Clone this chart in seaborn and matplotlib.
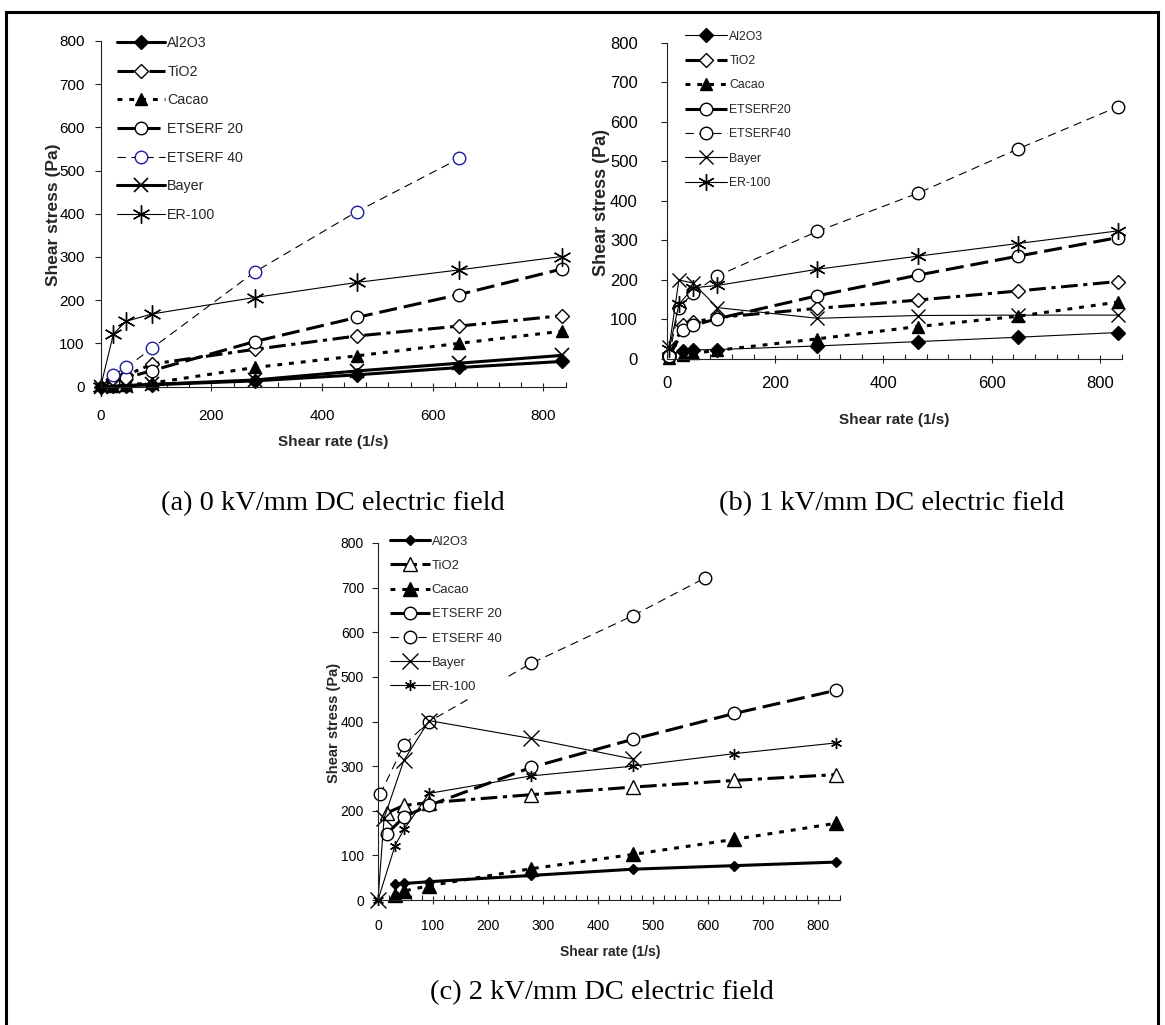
import matplotlib
matplotlib.use("Agg")
import matplotlib.pyplot as plt
from matplotlib.lines import Line2D
from matplotlib.ticker import MultipleLocator
import seaborn as sns

sns.set_theme(style="ticks")
plt.rcParams["font.family"] = ["Liberation Sans", "DejaVu Sans"]
plt.rcParams["lines.scale_dashes"] = False
plt.rcParams["axes.linewidth"] = 0.8
plt.rcParams["axes.edgecolor"] = "#222222"

W, H, DPI = 1165, 1025, 100

# ---------------- (a) 0 kV/mm ----------------
a_al2o3_x = [0, 23, 46, 93, 278, 463, 648, 833]
a_al2o3_y = [0, 1, 2, 4, 13, 27, 44, 58]
a_tio2_x = [23, 46, 93, 278, 463, 648, 833]
a_tio2_y = [18, 26, 52, 86, 117, 140, 164]
a_cacao_x = [23, 46, 93, 278, 463, 648, 833]
a_cacao_y = [2, 4, 8, 44, 71, 100, 128]
a_ets20_x = [23, 46, 93, 278, 463, 648, 833]
a_ets20_y = [10, 20, 37, 104, 160, 213, 272]
a_ets40_x = [23, 46, 93, 278, 463, 648]
a_ets40_y = [27, 44, 89, 265, 405, 528]
a_bayer_x = [0, 23, 46, 93, 278, 463, 648, 833]
a_bayer_y = [0, 1, 2, 5, 15, 36, 54, 72]
a_er100_x = [0, 23, 46, 93, 278, 463, 648, 833]
a_er100_y = [0, 122, 151, 168, 206, 241, 270, 301]

# ---------------- (b) 1 kV/mm ----------------
b_al2o3_x = [4, 30, 48, 93, 278, 463, 648, 833]
b_al2o3_y = [10, 21, 23, 24, 33, 44, 55, 67]
b_tio2_x = [4, 30, 48, 93, 278, 463, 648, 833]
b_tio2_y = [5, 87, 93, 105, 128, 149, 172, 196]
b_cacao_x = [4, 30, 48, 93, 278, 463, 648, 833]
b_cacao_y = [2, 10, 14, 22, 51, 82, 108, 144]
b_ets20_x = [4, 30, 48, 93, 278, 463, 648, 833]
b_ets20_y = [6, 74, 85, 102, 160, 212, 260, 307]
b_ets40_x = [4, 22, 48, 93, 278, 463, 648, 833]
b_ets40_y = [8, 130, 166, 210, 323, 419, 531, 638]
b_bayer_x = [4, 22, 48, 93, 278, 463, 648, 833]
b_bayer_y = [30, 200, 192, 130, 103, 110, 111, 111]
b_er100_x = [4, 22, 48, 93, 278, 463, 648, 833]
b_er100_y = [25, 138, 180, 186, 227, 260, 292, 324]

# ---------------- (c) 2 kV/mm ----------------
c_al2o3_x = [31, 47, 93, 278, 463, 648, 833]
c_al2o3_y = [36, 37, 41, 55, 69, 77, 85]
c_tio2_x = [16, 47, 93, 278, 463, 648, 833]
c_tio2_y = [195, 212, 218, 236, 253, 268, 281]
c_cacao_x = [31, 47, 93, 278, 463, 648, 833]
c_cacao_y = [11, 20, 32, 70, 102, 136, 172]
c_ets20_x = [16, 47, 93, 278, 463, 648, 833]
c_ets20_y = [148, 186, 212, 297, 360, 418, 470]
c_ets40_x = [4, 47, 93, 278, 463, 595]
c_ets40_y = [237, 347, 400, 530, 637, 722]
c_bayer_x = [0, 11, 47, 93, 278, 463]
c_bayer_y = [0, 183, 313, 402, 362, 316]
c_er100_x = [0, 31, 47, 93, 278, 463, 648, 833]
c_er100_y = [0, 122, 158, 239, 278, 300, 328, 352]

labels_ac = ["Al2O3", "TiO2", "Cacao", "ETSERF 20", "ETSERF 40", "Bayer", "ER-100"]
labels_b = ["Al2O3", "TiO2", "Cacao", "ETSERF20", "ETSERF40", "Bayer", "ER-100"]

captions = ["(a) 0 kV/mm DC electric field",
            "(b) 1 kV/mm DC electric field",
            "(c) 2 kV/mm DC electric field"]

# line styles (dash lengths in points)
THICK, THIN = 2.2, 0.8
SOLID = "-"
DASHDOT = (0, (12, 4, 3, 4))
DOTTED = (0, (3.5, 5))
LONGDASH = (0, (13, 5))
DASHED = (0, (6, 4))
ASTER = (6, 2, 0)
K, WH = "black", "white"


def st(ls, lw, marker, ms, mfc=K, mec=K, mew=1.0):
    return dict(linestyle=ls, linewidth=lw, marker=marker, markersize=ms,
                markerfacecolor=mfc, markeredgecolor=mec, markeredgewidth=mew)


styles_a = [st(SOLID, THICK, "D", 7),
            st(DASHDOT, THICK, "D", 7.5, WH),
            st(DOTTED, THICK, "^", 9),
            st(LONGDASH, THICK, "o", 9, WH),
            st(DASHED, THIN, "o", 9, WH, "#1c1ca0"),
            st(SOLID, THICK, "x", 10, mew=1.2),
            st(SOLID, THIN, ASTER, 13)]
styles_b = [st(SOLID, THIN, "D", 7),
            st(DASHDOT, THICK, "D", 7.5, WH),
            st(DOTTED, THICK, "^", 9),
            st(LONGDASH, THICK, "o", 9, WH),
            st(DASHED, THIN, "o", 9, WH),
            st(SOLID, THIN, "x", 10),
            st(SOLID, THIN, ASTER, 12)]
styles_c = [st(SOLID, THICK, "D", 5),
            st(DASHDOT, THICK, "^", 10, WH),
            st(DOTTED, THICK, "^", 10),
            st(LONGDASH, THICK, "o", 9, WH),
            st(DASHED, THIN, "o", 9, WH),
            st(SOLID, THIN, "x", 11),
            st(SOLID, THIN, ASTER, 8)]

series_a = [(a_al2o3_x, a_al2o3_y), (a_tio2_x, a_tio2_y), (a_cacao_x, a_cacao_y),
            (a_ets20_x, a_ets20_y), (a_ets40_x, a_ets40_y), (a_bayer_x, a_bayer_y),
            (a_er100_x, a_er100_y)]
series_b = [(b_al2o3_x, b_al2o3_y), (b_tio2_x, b_tio2_y), (b_cacao_x, b_cacao_y),
            (b_ets20_x, b_ets20_y), (b_ets40_x, b_ets40_y), (b_bayer_x, b_bayer_y),
            (b_er100_x, b_er100_y)]
series_c = [(c_al2o3_x, c_al2o3_y), (c_tio2_x, c_tio2_y), (c_cacao_x, c_cacao_y),
            (c_ets20_x, c_ets20_y), (c_ets40_x, c_ets40_y), (c_bayer_x, c_bayer_y),
            (c_er100_x, c_er100_y)]

fig = plt.figure(figsize=(W / DPI, H / DPI), dpi=DPI)
fig.patch.set_facecolor("white")


def px_axes(left, right, top, bottom):
    return fig.add_axes([left / W, 1 - bottom / H, (right - left) / W, (bottom - top) / H])


# panel geometry in pixels: (x=0, x=840, y=800, y=0)
panels = [
    dict(box=(100.7, 565.6, 41, 386.5), series=series_a, styles=styles_a, labels=labels_ac,
         major=200, minor=40, tick_fs=11, xpad=13, ypad=7.5,
         xlab=(333, 442, 11), ylab=(53.6, 215, 12.5),
         leg=(10.3, 167.3, 43.3, 28.6, 3.37, 0.16), cap=(333, 504)),
    dict(box=(667, 1121.6, 42.7, 359), series=series_b, styles=styles_b, labels=labels_b,
         major=200, minor=40, tick_fs=12, xpad=9, ypad=17,
         xlab=(894, 420, 11), ylab=(601, 202, 13),
         leg=(8.8, 729.3, 36.7, 24.4, 3.4, 0.2), cap=(892, 504)),
    dict(box=(378, 840, 543, 900), series=series_c, styles=styles_c, labels=labels_ac,
         major=100, minor=20, tick_fs=10, xpad=10.5, ypad=6,
         xlab=(610, 952, 10), ylab=(334, 723, 10.5),
         leg=(9.4, 431.7, 541.7, 24.2, 3.1, 0.13), cap=(602, 993)),
]

axes = []
for p in panels:
    l, r, t, b = p["box"]
    ax = px_axes(l, r, t, b)
    for (xs, ys), sty, lab in zip(p["series"], p["styles"], p["labels"]):
        sns.lineplot(x=xs, y=ys, ax=ax, color=K, label=lab, legend=False,
                     sort=False, estimator=None, clip_on=False, **sty)
    ax.set_xlim(0, 840)
    ax.set_ylim(0, 800)
    ax.xaxis.set_major_locator(MultipleLocator(p["major"]))
    ax.xaxis.set_minor_locator(MultipleLocator(p["minor"]))
    ax.yaxis.set_major_locator(MultipleLocator(100))
    ax.set_xticks([v for v in range(0, 801, p["major"])])
    ax.tick_params(axis="x", which="major", direction="inout", length=6, width=0.8,
                   pad=p["xpad"], labelsize=p["tick_fs"], colors="#222222", labelcolor="black")
    ax.tick_params(axis="x", which="minor", direction="in", length=3.5, width=0.8,
                   colors="#222222")
    ax.tick_params(axis="y", which="major", direction="out", length=4, width=0.8,
                   pad=p["ypad"], labelsize=p["tick_fs"], colors="#222222", labelcolor="black")
    sns.despine(ax=ax)
    ax.set_facecolor("white")
    xl_x, xl_y, xl_fs = p["xlab"]
    ax.set_xlabel("Shear rate (1/s)", fontsize=xl_fs, fontweight="bold", va="center")
    ax.xaxis.set_label_coords((xl_x - l) / (r - l), (b - xl_y) / (b - t))
    yl_x, yl_y, yl_fs = p["ylab"]
    ax.set_ylabel("Shear stress (Pa)", fontsize=yl_fs, fontweight="bold", va="center")
    ax.yaxis.set_label_coords((yl_x - l) / (r - l), (b - yl_y) / (b - t))
    axes.append(ax)


def place_legend(ax, fs, text_left, first_row, pitch, hlen, tpad):
    """Legend with an opaque white box; rows spaced and anchored in pixel terms."""
    fs_px = fs * DPI / 72
    ls = 0.75
    kw = dict(loc="upper left", bbox_transform=fig.transFigure, fontsize=fs,
              handlelength=hlen, handletextpad=tpad, borderpad=0.3, borderaxespad=0,
              frameon=True, fancybox=False, facecolor="white", edgecolor="none",
              framealpha=1, numpoints=1)
    for _ in range(2):
        leg = ax.legend(bbox_to_anchor=(0.5, 0.5), labelspacing=ls, **kw)
        fig.canvas.draw()
        rend = fig.canvas.get_renderer()
        ext = [tx.get_window_extent(rend) for tx in leg.get_texts()]
        meas = ((ext[0].y0 + ext[0].y1) / 2 - (ext[-1].y0 + ext[-1].y1) / 2) / (len(ext) - 1)
        ls += (pitch - meas) / fs_px
    leg = ax.legend(bbox_to_anchor=(0.5, 0.5), labelspacing=ls, **kw)
    fig.canvas.draw()
    rend = fig.canvas.get_renderer()
    e0 = leg.get_texts()[0].get_window_extent(rend)
    dx = (text_left - e0.x0) / W
    dy = ((H - first_row) - (e0.y0 + e0.y1) / 2) / H
    leg.set_bbox_to_anchor((0.5 + dx, 0.5 + dy), transform=fig.transFigure)


for ax, p in zip(axes, panels):
    place_legend(ax, *p["leg"])

for p, text in zip(panels, captions):
    cx, cy = p["cap"]
    fig.text(cx / W, 1 - cy / H, text, ha="center", va="center",
             family=["Liberation Serif", "DejaVu Serif"], fontsize=20.5, color="black")

# outer frame: left, right and top rules
frame_kw = dict(transform=fig.transFigure, color="black", lw=2.2, solid_capstyle="projecting")
fig.add_artist(Line2D([6 / W, 6 / W], [0, 1 - 12 / H], **frame_kw))
fig.add_artist(Line2D([1158 / W, 1158 / W], [0, 1 - 12 / H], **frame_kw))
fig.add_artist(Line2D([6 / W, 1158 / W], [1 - 12 / H, 1 - 12 / H], **frame_kw))

fig.savefig("out.png", dpi=DPI, facecolor="white")
